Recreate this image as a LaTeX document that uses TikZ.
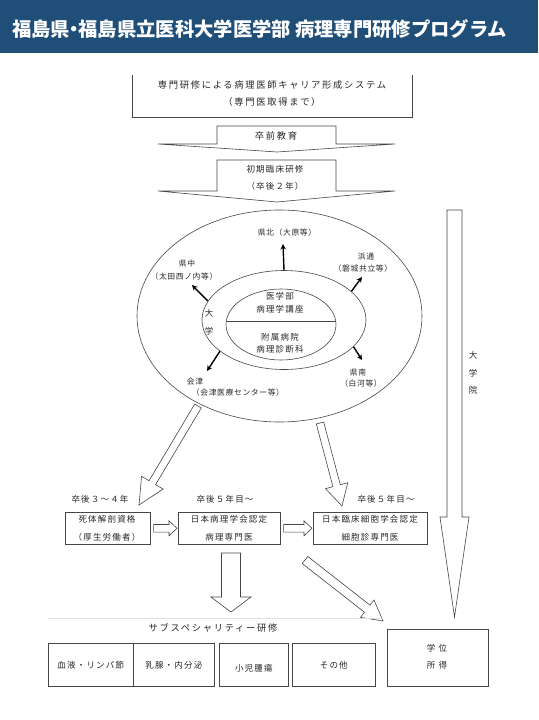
\documentclass[tikz,border=0pt]{standalone}
\usepackage{fontspec}
\newfontfamily\jpT{Noto Sans CJK JP}
\newfontfamily\jpA{Noto Sans CJK JP}[LetterSpace=8]
\newfontfamily\jpB{Noto Sans CJK JP}[LetterSpace=14]
\newfontfamily\jpC{Noto Sans CJK JP}[LetterSpace=18]
\usetikzlibrary{calc,arrows.meta,shapes.geometric}
\definecolor{hdr}{RGB}{31,78,121}
\definecolor{lnc}{RGB}{70,70,70}
\definecolor{txc}{RGB}{40,40,40}
\tikzset{
  ln/.style={draw=lnc, line width=0.6pt},
  txs/.style={text=txc, inner sep=0pt, font=\jpA\fontsize{7.8}{9}\selectfont},
  tx/.style={text=txc, inner sep=0pt, font=\jpB\fontsize{8.5}{10}\selectfont},
  txl/.style={text=txc, inner sep=0pt, font=\jpC\fontsize{9.3}{11}\selectfont},
  titletx/.style={text=white, inner sep=0pt, font=\jpT\bfseries\fontsize{19.3}{22}\selectfont},
  boxn/.style={ln, inner sep=0pt, anchor=north west},
  hollow/.style={draw=lnc, line width=0.6pt, fill=white, line join=miter},
  blk/.style={draw=black, line width=1.4pt, -{Stealth[length=5.5pt,width=5.5pt]}},
  ell/.style={ln, ellipse, inner sep=0pt},
}
% hollow block arrow: from, to, half shaft, half head, head length
\newcommand\blkarr[5]{%
  \coordinate (tmph) at ($(#2)!#5!(#1)$);
  \draw[hollow] ($(#1)!#3!90:(#2)$) -- ($(tmph)!#3!-90:(#1)$) -- ($(tmph)!#4!-90:(#1)$) -- (#2) -- ($(tmph)!#4!90:(#1)$) -- ($(tmph)!#3!90:(#1)$) -- ($(#1)!#3!-90:(#2)$) -- cycle;}
\begin{document}
\begin{tikzpicture}[x=1pt,y=-1pt]
\useasboundingbox (0,0) rectangle (538,720);
\fill[white] (0,0) rectangle (538,720);
% header
\fill[hdr] (0,0) rectangle (538,53);
\node[titletx, anchor=west] (title) at (12,29) {福島県\kern-0.28em・\kern-0.28em福島県立医科大学医学部 病理専門研修プログラム};

% top box (open at top)
\node[inner sep=0pt, minimum width=280pt, minimum height=42pt] (topbox) at (272.5,96) {};
\draw[ln] (topbox.north west) -- (topbox.south west) -- (topbox.south east) -- (topbox.north east);
\node[txl] (t1) at (272,85) {専門研修による病理医師キャリア形成システム};
\node[txl] (t2) at (272,102) {（専門医取得まで）};

% block arrows
\draw[hollow] (217,126) -- (336,126) -- (336,144) -- (395,144) -- (277,152) -- (158,144) -- (217,144) -- cycle;
\node[txl] (a1) at (276,136) {卒前教育};
\draw[hollow] (217,160) -- (336,160) -- (336,191) -- (395,191) -- (277,202) -- (158,191) -- (217,191) -- cycle;
\node[tx] (a2a) at (275,169) {初期臨床研修};
\node[tx] (a2b) at (275,186) {（卒後２年）};

% diagonal arrows from the ellipse
\coordinate (d1s) at (198,406);
\coordinate (d1e) at (139,505);
\blkarr{d1s}{d1e}{3.8pt}{12.5pt}{26pt}
\coordinate (d2s) at (320,423);
\coordinate (d2e) at (342,506);
\blkarr{d2s}{d2e}{3.8pt}{11.5pt}{21pt}

% ellipses
\node[ell, minimum width=285pt, minimum height=212pt] (outer) at (279.5,316) {};
\node[ell, minimum width=164pt, minimum height=99pt] (inner) at (284,320) {};
\node[ell, minimum width=110pt, minimum height=71pt] (core) at (281,324.5) {};
\begin{scope}
\clip (281,324.5) ellipse [x radius=55pt, y radius=35.5pt];
\draw[ln] (200,321) -- (360,321);
\end{scope}
\node[tx] (c1) at (280,296) {医学部};
\node[tx] (c2) at (280,309) {病理学講座};
\node[tx] (c3) at (280,337) {附属病院};
\node[tx] (c4) at (280,349) {病理診断科};
\node[tx] (u1) at (209,313) {大};
\node[tx] (u2) at (209,331) {学};

% regional arrows
\coordinate (kn) at (283,244);
\coordinate (hd) at (362,277);
\coordinate (kc) at (192,285);
\coordinate (az) at (207,371);
\coordinate (km) at (362,360);
\draw[blk] (inner.north) -- (kn);
\draw[blk] (inner.23) -- (hd);
\draw[blk] (inner.166) -- (kc);
\draw[blk] (inner.206) -- (az);
\draw[blk] (inner.339) -- (km);
\node[txs] (l1) at (287,233) {県北（大原等）};
\node[txs] (l2) at (366,257) {浜通};
\node[txs] (l3) at (363,269) {（磐城共立等）};
\node[txs] (l4) at (187,264) {県中};
\node[txs] (l5) at (184,277) {（太田西ノ内等）};
\node[txs] (l6) at (195,382) {会津};
\node[txs] (l7) at (238,393) {（会津医療センター等）};
\node[txs] (l8) at (358,373) {県南};
\node[txs] (l9) at (361,384) {（白河等）};

% 大学院 arrow
\coordinate (gs) at (454.5,210);
\coordinate (ge) at (454.5,617);
\blkarr{gs}{ge}{7.5pt}{14.5pt}{100pt}
\node[tx] (g1) at (473,355) {大};
\node[tx] (g2) at (473,373) {学};
\node[tx] (g3) at (473,390) {院};

% middle row
\node[tx] (y1) at (100,499) {卒後３～４年};
\node[tx] (y2) at (225,499) {卒後５年目～};
\node[tx] (y3) at (386,499) {卒後５年目～};
\node[boxn, minimum width=85pt, minimum height=32pt] (b1) at (65,512) {};
\node[boxn, minimum width=102pt, minimum height=32pt] (b2) at (178,512) {};
\node[boxn, minimum width=114pt, minimum height=32pt] (b3) at (313,512) {};
\node[tx] (b1a) at (107,519) {死体解剖資格};
\node[tx] (b1b) at (107,537) {（厚生労働者）};
\node[tx] (b2a) at (229,519) {日本病理学会認定};
\node[tx] (b2b) at (229,537) {病理専門医};
\node[tx] (b3a) at (370,519) {日本臨床細胞学会認定};
\node[tx] (b3b) at (370,537) {細胞診専門医};
\coordinate (s1s) at ($(b1.east)+(3,0)$);
\coordinate (s1e) at ($(b2.west)+(-1,0)$);
\blkarr{s1s}{s1e}{3.8pt}{7.5pt}{8pt}
\coordinate (s2s) at ($(b2.east)+(3,0)$);
\coordinate (s2e) at ($(b3.west)+(-1,0)$);
\blkarr{s2s}{s2e}{3.8pt}{7.5pt}{8pt}

% lower arrows
\coordinate (ds) at (231,553);
\coordinate (de) at (231,612);
\blkarr{ds}{de}{9.5pt}{20pt}{15pt}
\coordinate (es) at (305,560);
\coordinate (ee) at (383,621);
\blkarr{es}{ee}{4.5pt}{11pt}{20pt}

% subspecialty
\draw[draw=black!12, line width=0.6pt] (48,618) -- (383,618);
\node[txl] (sub) at (213,628) {サブスペシャリティー研修};
\node[boxn, minimum width=85pt, minimum height=43pt] (p1) at (48,643) {};
\node[boxn, minimum width=81pt, minimum height=43pt] (p2) at (133,643) {};
\node[boxn, minimum width=69pt, minimum height=43pt] (p3) at (219,643) {};
\node[boxn, minimum width=83pt, minimum height=43pt] (p4) at (292,643) {};
\node[tx] at (p1.center) {血液・リンパ節};
\node[tx] at (p2.center) {乳腺・内分泌};
\node[tx] at ($(p3.center)+(0,3)$) {小児腫瘍};
\node[tx] at (p4.center) {その他};
\node[boxn, minimum width=101pt, minimum height=57pt] (deg) at (387,629) {};
\node[tx] (dg1) at (437,648) {学 位};
\node[tx] (dg2) at (437,665) {所 得};
\end{tikzpicture}
\end{document}
